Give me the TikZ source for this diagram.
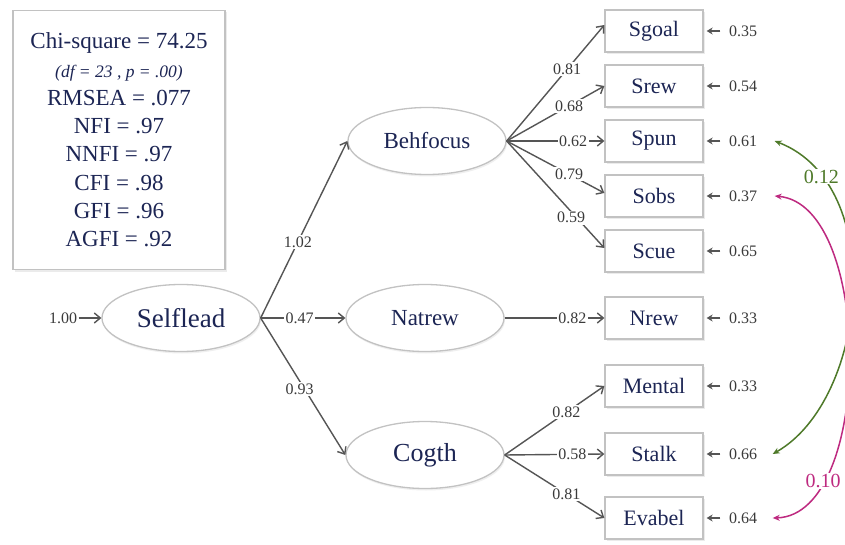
\documentclass[tikz,border=0pt]{standalone}
\usepackage{fontspec}
\setmainfont{Liberation Serif}
\usetikzlibrary{shapes.geometric,arrows.meta,shadows}

\definecolor{navy}{HTML}{1C2554}
\definecolor{edgegray}{HTML}{555555}
\definecolor{framegray}{HTML}{C2C2C2}
\definecolor{numgray}{HTML}{3A3A3A}
\definecolor{covgreen}{HTML}{4F7A2A}
\definecolor{covmag}{HTML}{BE2A80}

\tikzset{
  latent/.style={ellipse, draw=framegray, line width=1.3pt, fill=white, text=navy,
    minimum width=158, minimum height=67, inner sep=0,
    drop shadow={shadow xshift=1pt, shadow yshift=-2pt, fill=black!12}},
  observed/.style={rectangle, draw=framegray, line width=1.3pt, fill=white, text=navy,
    minimum width=98, minimum height=42, inner sep=0,
    font=\fontsize{22}{24}\selectfont,
    drop shadow={shadow xshift=1.5pt, shadow yshift=-2pt, fill=black!15}},
  coef/.style={font=\fontsize{16}{18}\selectfont, text=numgray, fill=white, inner sep=1.5pt},
  errnum/.style={font=\fontsize{16}{18}\selectfont, text=numgray, inner sep=1.5pt},
  pathline/.style={draw=edgegray, line width=1.4pt, -{Straight Barb[length=6pt,width=10pt,line width=1.4pt]}},
  errarrow/.style={draw=edgegray, line width=1.2pt, -{Stealth[length=6pt,width=7pt]}},
  covline/.style={line width=1.5pt, {Stealth[length=7pt,width=6pt]}-{Stealth[length=7pt,width=6pt]}},
  covnum/.style={font=\fontsize{20}{22}\selectfont, fill=white, inner sep=1pt},
}

\begin{document}
\begin{tikzpicture}[x=1pt,y=-1pt]
\useasboundingbox (0,0) rectangle (845,545);
\clip (0,0) rectangle (845,545);
\fill[white] (0,0) rectangle (845,545);

% fit statistics
\node[draw=framegray, line width=1.5pt, fill=white, text=navy, align=center,
      minimum width=212, minimum height=259, inner sep=0,
      font=\fontsize{23}{28.3}\selectfont,
      drop shadow={shadow xshift=2pt, shadow yshift=-2pt, fill=black!15}]
  (stats) at (119,140)
  {Chi-square = 74.25\\
   {\fontsize{17.5}{18}\selectfont\itshape (df = 23 , p = .00)}\\
   RMSEA = .077\\
   NFI = .97\\
   NNFI = .97\\
   CFI = .98\\
   GFI = .96\\
   AGFI = .92};

% latent variables
\node[latent, font=\fontsize{27}{30}\selectfont] (self) at (181,318) {Selflead};
\node[latent, font=\fontsize{23}{26}\selectfont] (beh) at (427,141) {Behfocus};
\node[latent, font=\fontsize{23}{26}\selectfont] (nat) at (425,318) {Natrew};
\node[latent, font=\fontsize{26}{29}\selectfont] (cog) at (425,455) {Cogth};

% indicators
\node[observed] (sgoal)  at (654,31)  {Sgoal};
\node[observed] (srew)   at (654,86)  {Srew};
\node[observed] (spun)   at (654,141) {Spun};
\node[observed] (sobs)   at (654,196) {Sobs};
\node[observed] (scue)   at (654,251) {Scue};
\node[observed] (nrew)   at (654,318) {Nrew};
\node[observed] (mental) at (654,386) {Mental};
\node[observed] (stalk)  at (654,454) {Stalk};
\node[observed] (evabel) at (654,518) {Evabel};

% error variances
\node[errnum] (e1) at (743,31)  {0.35};
\node[errnum] (e2) at (743,86)  {0.54};
\node[errnum] (e3) at (743,141) {0.61};
\node[errnum] (e4) at (743,196) {0.37};
\node[errnum] (e5) at (743,251) {0.65};
\node[errnum] (e6) at (743,318) {0.33};
\node[errnum] (e7) at (743,386) {0.33};
\node[errnum] (e8) at (743,454) {0.66};
\node[errnum] (e9) at (743,518) {0.64};
\foreach \e/\b in {e1/sgoal,e2/srew,e3/spun,e4/sobs,e5/scue,e6/nrew,e7/mental,e8/stalk,e9/evabel}
  \draw[errarrow] ([xshift=-7pt]\e.west) -- ([xshift=3pt]\b.east);

% input to the second-order factor
\node[errnum] (in) at (63,318) {1.00};
\draw[pathline] (in.east) -- (self.west);

% second-order loadings
\draw[pathline] (self.east) -- node[coef, pos=.43] {1.02} (beh.west);
\draw[pathline] (self.east) -- node[coef, pos=.46] {0.47} (nat.west);
\draw[pathline] (self.east) -- node[coef, pos=.52, xshift=-5pt] {0.93} (cog.west);

% first-order loadings
\draw[pathline] (beh.east) -- node[coef, pos=.62] {0.81} ([yshift=6pt]sgoal.west);
\draw[pathline] (beh.east) -- node[coef, pos=.64] {0.68} (srew.west);
\draw[pathline] (beh.east) -- node[coef, pos=.68] {0.62} (spun.west);
\draw[pathline] (beh.east) -- node[coef, pos=.64] {0.79} ([yshift=3pt]sobs.west);
\draw[pathline] (beh.east) -- node[coef, pos=.66, yshift=-6pt] {0.59} ([yshift=3pt]scue.west);
\draw[pathline] (nat.east) -- node[coef, pos=.68] {0.82} (nrew.west);
\draw[pathline] (cog.east) -- node[coef, pos=.62] {0.82} (mental.west);
\draw[pathline] (cog.east) -- node[coef, pos=.68] {0.58} (stalk.west);
\draw[pathline] (cog.east) -- node[coef, pos=.62] {0.81} (evabel.west);

% correlated errors
\draw[covline, covgreen] ([xshift=16pt]e3.east) .. controls +(114,44) and +(95,-54) ..
  ([xshift=14pt]e8.east) node[covnum, text=covgreen, pos=.17] (c1) {0.12};
\draw[covline, covmag] ([xshift=16pt]e4.east) .. controls +(99,9) and +(101,-3) ..
  ([xshift=14pt]e9.east) node[covnum, text=covmag, pos=.79] (c2) {0.10};
\end{tikzpicture}
\end{document}
